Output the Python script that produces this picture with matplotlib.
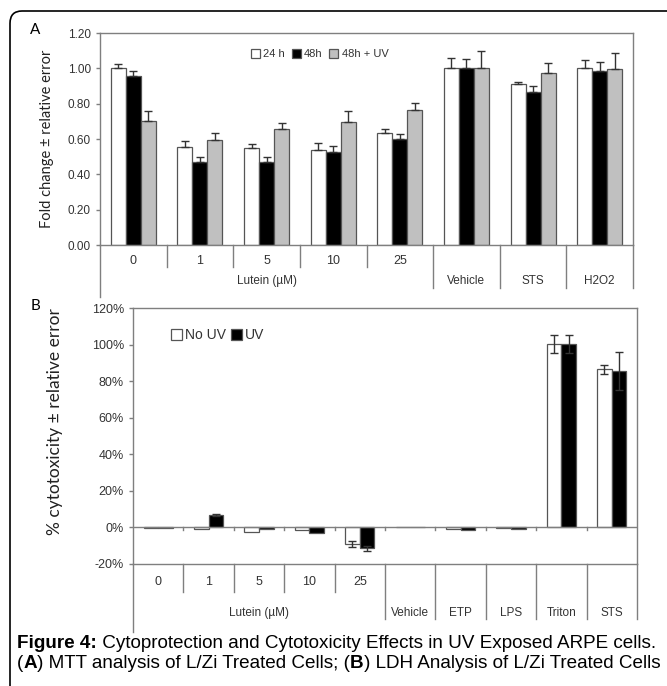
import numpy as np
import matplotlib
matplotlib.use("Agg")
from matplotlib import pyplot as plt
from matplotlib import font_manager
from matplotlib.patches import FancyBboxPatch
from matplotlib.ticker import PercentFormatter

# Panel A: MTT
groups_a = ["0", "1", "5", "10", "25", "Vehicle", "STS", "H2O2"]
h24 = [1.00, 0.553, 0.551, 0.536, 0.634, 1.00, 0.911, 1.00]
h24_err = [0.023, 0.034, 0.021, 0.040, 0.023, 0.060, 0.013, 0.047]
h48 = [0.956, 0.470, 0.470, 0.525, 0.602, 1.00, 0.866, 0.985]
h48_err = [0.028, 0.028, 0.028, 0.034, 0.028, 0.055, 0.034, 0.050]
h48uv = [0.700, 0.593, 0.657, 0.697, 0.763, 1.00, 0.975, 0.996]
h48uv_err = [0.057, 0.042, 0.034, 0.062, 0.040, 0.097, 0.057, 0.093]
series_a = ["24 h", "48h", "48h + UV"]

# Panel B: LDH
groups_b = ["0", "1", "5", "10", "25", "Vehicle", "ETP", "LPS", "Triton", "STS"]
no_uv = [-0.3, -1.0, -2.5, -1.2, -9.0, 0.0, -0.8, -0.4, 100.5, 86.5]
no_uv_err = [0, 0, 0, 0, 1.5, 0, 0, 0, 5.0, 2.5]
uv = [-0.2, 7.0, -0.6, -3.0, -11.5, 0.0, -1.5, -1.0, 100.5, 85.5]
uv_err = [0, 0.5, 0, 0, 1.2, 0, 0, 0, 4.9, 10.4]
series_b = ["No UV", "UV"]

caption_1 = [("Figure 4:", "bold"),
             (" Cytoprotection and Cytotoxicity Effects in UV Exposed ARPE cells.", "normal")]
caption_2 = [("(", "normal"), ("A", "bold"),
             (") MTT analysis of L/Zi Treated Cells; (", "normal"),
             ("B", "bold"), (") LDH Analysis of L/Zi Treated Cells", "normal")]

n_lutein = 5

W, H = 667, 686
fig = plt.figure(figsize=(W / 100, H / 100), dpi=100)
plt.rcParams['font.family'] = ['Liberation Sans', 'DejaVu Sans']
plt.rcParams['axes.unicode_minus'] = False

# rounded frame, cut off on right and bottom
frame = FancyBboxPatch((10 / W, -0.05), 1.2, 1 - 11 / H + 0.05,
                       boxstyle="round,pad=0,rounding_size=0.018",
                       transform=fig.transFigure, fill=False,
                       edgecolor="black", linewidth=1.2, clip_on=False)
fig.patches.append(frame)

spine_col = "#7f7f7f"
edge_col = "#555555"
tick_col = "#333333"


def style_axes(ax):
    for s in ax.spines.values():
        s.set_color(spine_col)
        s.set_linewidth(1.0)
    ax.tick_params(axis="y", colors=tick_col, length=3, width=1,
                   color=spine_col, labelsize=8.5)
    ax.tick_params(axis="x", length=0, labelbottom=False)


def category_axis(ax, groups, y_lbl, y_div_short, y_div_long, y_left, y_names):
    tr = ax.get_xaxis_transform()
    n = len(groups)
    for i in range(n + 1):
        if i == 0:
            y_end = y_left
        elif i <= n_lutein - 1:
            y_end = y_div_short
        else:
            y_end = y_div_long
        ax.plot([i, i], [0, y_end], transform=tr, color=spine_col,
                lw=1.0, clip_on=False)
    for i, g in enumerate(groups):
        if i < n_lutein:
            ax.text(i + 0.5, y_lbl, g, transform=tr, ha="center", va="center",
                    fontsize=9, color=tick_col)
        else:
            ax.text(i + 0.5, y_names, g, transform=tr, ha="center",
                    va="center", fontsize=8.5, color=tick_col)
    ax.text(n_lutein / 2, y_names, "Lutein (\u00b5M)", transform=tr,
            ha="center", va="center", fontsize=8.5, color=tick_col)


# ---------- Panel A ----------
axA = fig.add_axes([100 / W, 1 - 245 / H, 533 / W, 212 / H])
x = np.arange(len(groups_a)) + 0.5
bw = 0.225
colors_a = ["white", "black", "#c0c0c0"]
for k, (vals, errs) in enumerate([(h24, h24_err), (h48, h48_err), (h48uv, h48uv_err)]):
    axA.bar(x + (k - 1) * bw, vals, bw, color=colors_a[k], edgecolor=edge_col,
            linewidth=0.9, label=series_a[k], zorder=2)
    axA.errorbar(x + (k - 1) * bw, vals, yerr=[np.zeros(len(vals)), errs],
                 fmt="none", ecolor="#333333", elinewidth=1.0, capsize=3,
                 capthick=1.0, zorder=3)
axA.set_xlim(0, len(groups_a))
axA.set_ylim(0, 1.2)
axA.set_yticks(np.arange(0, 1.21, 0.2))
axA.set_yticklabels(["%.2f" % v for v in np.arange(0, 1.21, 0.2)])
style_axes(axA)
category_axis(axA, groups_a, -0.075, -0.104, -0.203, -0.245, -0.17)
axA.legend(loc="upper left", bbox_to_anchor=(0.265, 0.97), ncol=3,
           frameon=False, fontsize=8, handlelength=0.8, handleheight=0.8,
           handletextpad=0.3, columnspacing=0.6, labelcolor=tick_col)

fig.text(47 / W, 1 - 139 / H, "Fold change \u00b1 relative error",
         rotation=90, ha="center", va="center", fontsize=10.5,
         family=["Lato", "DejaVu Sans"], color="#222222")
fig.text(35 / W, 1 - 30 / H, "A", ha="center", va="center", fontsize=11,
         family=["Lato", "DejaVu Sans"])

# ---------- Panel B ----------
axB = fig.add_axes([133 / W, 1 - 564 / H, 504 / W, 256 / H])
xb = np.arange(len(groups_b)) + 0.5
bwb = 0.29
colors_b = ["white", "black"]
for k, (vals, errs) in enumerate([(no_uv, no_uv_err), (uv, uv_err)]):
    axB.bar(xb + (k - 0.5) * bwb, vals, bwb, color=colors_b[k],
            edgecolor=edge_col, linewidth=0.9, label=series_b[k], zorder=2)
    e = np.array(errs)
    m = e > 0
    axB.errorbar((xb + (k - 0.5) * bwb)[m], np.array(vals)[m], yerr=e[m],
                 fmt="none", ecolor="#333333", elinewidth=1.0, capsize=3,
                 capthick=1.0, zorder=3)
axB.set_xlim(0, len(groups_b))
axB.set_ylim(-20, 120)
axB.set_yticks(np.arange(-20, 121, 20))
axB.yaxis.set_major_formatter(PercentFormatter(decimals=0))
axB.axhline(0, color=spine_col, lw=1.0, zorder=4)
for i in range(1, len(groups_b)):
    axB.plot([i, i], [0, -1.6], color=spine_col, lw=1.0, zorder=4)
style_axes(axB)
axB.tick_params(axis="y", labelsize=9)
category_axis(axB, groups_b, -0.07, -0.11, -0.215, -0.265, -0.19)
axB.legend(loc="upper left", bbox_to_anchor=(0.05, 0.97), ncol=2,
           frameon=False, fontsize=10, handlelength=0.8, handleheight=0.8,
           handletextpad=0.2, columnspacing=0.4, labelcolor=tick_col)

fig.text(55 / W, 1 - 422 / H, "% cytotoxicity \u00b1 relative error",
         rotation=90, ha="center", va="center", fontsize=12.5,
         family=["Lato", "DejaVu Sans"], color="#222222")
fig.text(35 / W, 1 - 306 / H, "B", ha="center", va="center", fontsize=11,
         family=["Lato", "DejaVu Sans"])

# ---------- caption ----------
cap_family = "Liberation Sans"
names = {f.name for f in font_manager.fontManager.ttflist}
if "Liberation Sans Narrow" in names:
    cap_family = "Liberation Sans Narrow"
renderer = fig.canvas.get_renderer()


def rich_line(x0, y0, pieces, size, draw=True):
    xpos = x0
    for txt, weight in pieces:
        t = fig.text(xpos / W, 1 - y0 / H, txt, fontsize=size,
                     fontweight=weight, ha="left", va="center",
                     family=cap_family)
        bb = t.get_window_extent(renderer=renderer)
        xpos += bb.width
        if not draw:
            t.remove()
    return xpos - x0


# fit first caption line to the width of the reference text
w0 = rich_line(17, 643, caption_1, 12, draw=False)
cap_size = 12 * (643 / w0)
rich_line(17, 643, caption_1, cap_size)
rich_line(17, 663, caption_2, cap_size)

fig.savefig("out.png", dpi=100)
